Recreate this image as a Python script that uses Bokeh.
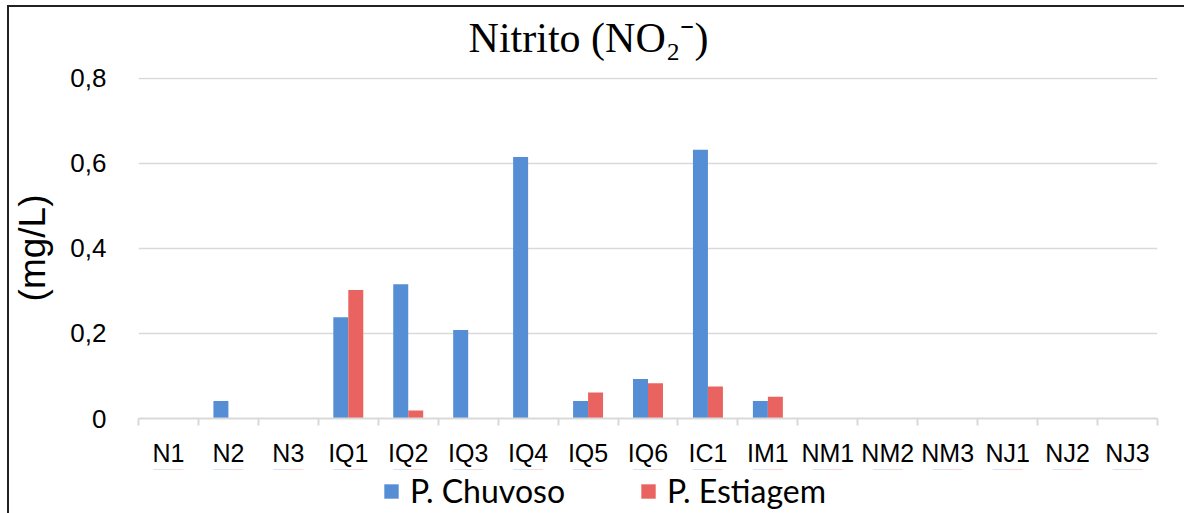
from bokeh.plotting import figure
from bokeh.layouts import column
from bokeh.models import (FactorRange, Range1d, LinearAxis, FixedTicker, Legend, LegendItem,
                          ColumnDataSource, Label, CustomJSTickFormatter, CategoricalAxis)
from bokeh.transform import dodge
from bokeh.embed import file_html
from bokeh.resources import INLINE

categories = ["N1", "N2", "N3", "IQ1", "IQ2", "IQ3", "IQ4", "IQ5", "IQ6", "IC1", "IM1",
              "NM1", "NM2", "NM3", "NJ1", "NJ2", "NJ3"]
chuvoso = [0, 0.041, 0, 0.238, 0.316, 0.208, 0.615, 0.041, 0.093, 0.632, 0.041,
           0, 0, 0, 0, 0, 0]
estiagem = [0, 0, 0, 0.302, 0.019, 0, 0, 0.061, 0.083, 0.075, 0.051,
            0, 0, 0, 0, 0, 0]
y_ticks = [0, 0.2, 0.4, 0.6, 0.8]
series_names = ["P. Chuvoso", "P. Estiagem"]
colors = ["#558ED5", "#E96461"]
title_text = "Nitrito (NO\u2082\u207b)"

src = ColumnDataSource(dict(cat=categories, chuvoso=chuvoso, estiagem=estiagem))
xr = FactorRange(*categories, range_padding=0)

# ---- title strip ----
t = figure(width=1175, height=56, x_range=(0, 1), y_range=(0, 1), output_backend="svg",
           toolbar_location=None, x_axis_location=None, y_axis_location=None,
           min_border=0, min_border_left=0, min_border_right=0, min_border_top=0, min_border_bottom=0)
t.outline_line_color = None
t.xgrid.visible = False
t.ygrid.visible = False
t.add_layout(Label(x=450, y=26, x_units="screen", y_units="screen", text=title_text,
                   text_align="center", text_baseline="alphabetic",
                   text_font="Liberation Serif", text_font_size="42px", text_color="#000000"))

# ---- main chart ----
p = figure(width=1175, height=406, x_range=xr,
           y_range=Range1d(0, 0.802), output_backend="svg", toolbar_location=None,
           x_axis_location=None, y_axis_location="left",
           min_border_left=127, min_border_right=27, min_border_top=14, min_border_bottom=50)
p.outline_line_color = None
p.xgrid.grid_line_color = None
p.ygrid.grid_line_color = "#D9D9D9"
p.ygrid.grid_line_width = 1.5
p.ygrid.ticker = FixedTicker(ticks=y_ticks)

r1 = p.vbar(x=dodge("cat", -0.125, range=xr), top="chuvoso", width=0.25, source=src,
            fill_color=colors[0], line_color=None)
r2 = p.vbar(x=dodge("cat", 0.125, range=xr), top="estiagem", width=0.25, source=src,
            fill_color=colors[1], line_color=None)

ya = p.yaxis[0]
ya.ticker = FixedTicker(ticks=y_ticks)
ya.formatter = CustomJSTickFormatter(code="return tick == 0 ? '0' : tick.toFixed(1).replace('.', ',');")
ya.axis_line_color = None
ya.major_tick_line_color = None
ya.minor_tick_line_color = None
ya.major_label_standoff = 26
ya.major_label_text_font = "Liberation Sans"
ya.major_label_text_font_size = "26px"
ya.major_label_text_color = "#000000"
ya.axis_label = "(mg/L)"
ya.axis_label_text_font = "Liberation Sans"
ya.axis_label_text_font_size = "37px"
ya.axis_label_text_font_style = "normal"
ya.axis_label_text_color = "#000000"
ya.axis_label_standoff = 14

edge_axis = LinearAxis(ticker=FixedTicker(ticks=list(range(len(categories) + 1))),
                       formatter=CustomJSTickFormatter(code="return '';"),
                       axis_line_color="#D9D9D9", axis_line_width=2,
                       major_tick_line_color="#D9D9D9", major_tick_line_width=2,
                       major_tick_in=0, major_tick_out=7, minor_tick_line_color=None,
                       major_label_text_font_size="1px", major_label_standoff=0)
p.add_layout(edge_axis, "below")
cat_axis = CategoricalAxis(axis_line_color=None, major_tick_line_color=None,
                           major_tick_in=0, major_tick_out=0,
                           major_label_standoff=13, major_label_text_font="Liberation Sans",
                           major_label_text_font_size="25px", major_label_text_color="#000000")
p.add_layout(cat_axis, "below")

# ---- legend strip (keys share the series source; their bars fall outside this strip's range) ----
q = figure(width=1175, height=44, x_range=xr, y_range=Range1d(-2, -1), output_backend="svg",
           toolbar_location=None, x_axis_location=None, y_axis_location=None,
           min_border=0, min_border_left=0, min_border_right=0, min_border_top=0, min_border_bottom=0)
q.outline_line_color = None
q.xgrid.visible = False
q.ygrid.visible = False
k1 = q.vbar(x=dodge("cat", -0.125, range=xr), top="chuvoso", width=0.25, source=src,
            fill_color=colors[0], line_color=None)
k2 = q.vbar(x=dodge("cat", 0.125, range=xr), top="estiagem", width=0.25, source=src,
            fill_color=colors[1], line_color=None)
legend = Legend(items=[LegendItem(label=series_names[0], renderers=[k1]),
                       LegendItem(label=series_names[1], renderers=[k2])],
                orientation="horizontal", location=(244, 3),
                padding=0, margin=0, spacing=74, label_standoff=10,
                glyph_width=18, glyph_height=18,
                label_text_font="Lato", label_text_font_size="32px", label_text_color="#000000",
                border_line_color=None, background_fill_alpha=0)
q.add_layout(legend, "center")

layout = column(t, p, q, spacing=0)
layout.styles = {"margin-left": "7px", "margin-top": "5px",
                 "border-left": "2px solid #222", "border-top": "2px solid #222"}

open("out.html", "w").write(file_html(layout, INLINE))
